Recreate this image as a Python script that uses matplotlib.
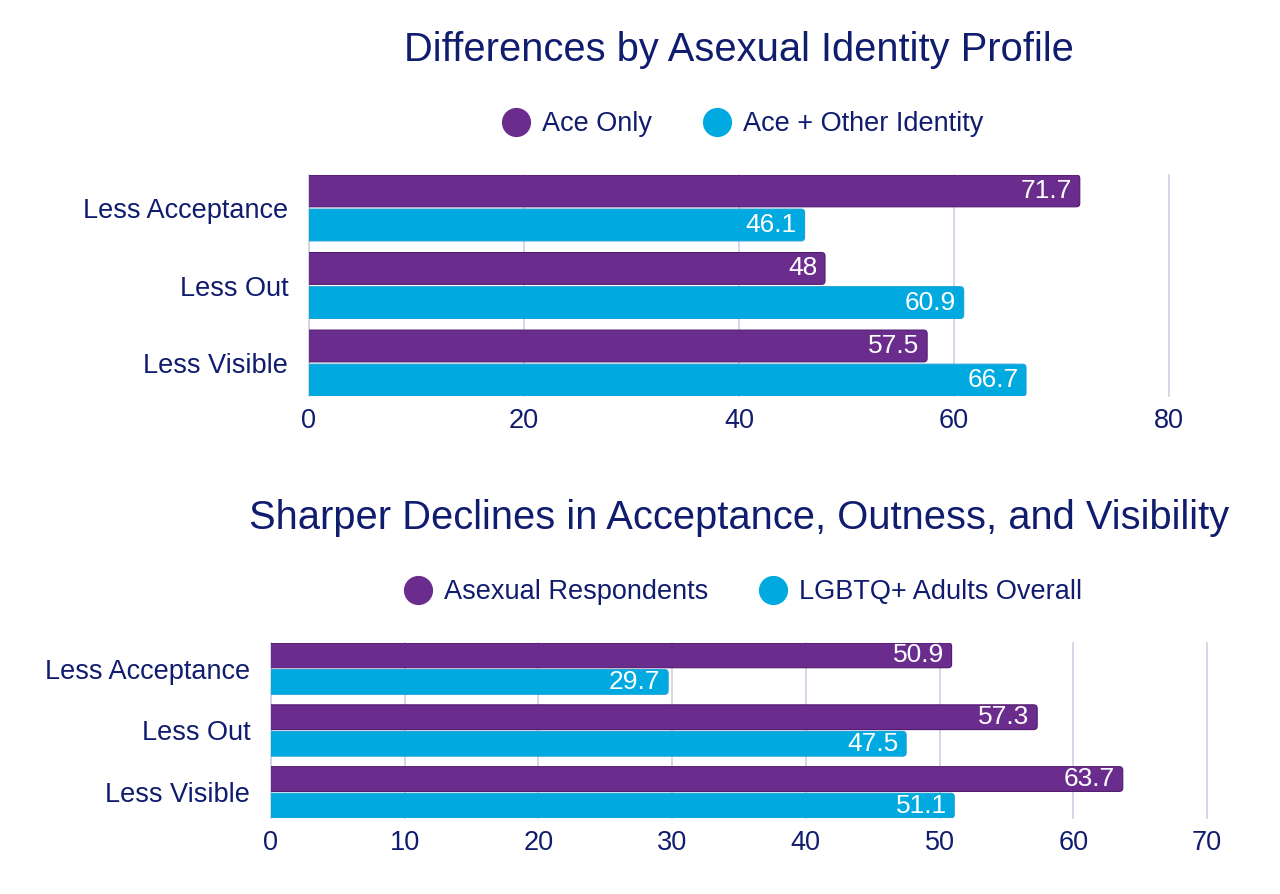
import matplotlib
matplotlib.use("Agg")
import matplotlib.pyplot as plt
from matplotlib.lines import Line2D
from matplotlib.patches import FancyBboxPatch
import numpy as np

plt.rcParams['font.family'] = ['Liberation Sans', 'DejaVu Sans']

navy = "#101c6e"
purple = "#6a2d8d"
cyan = "#00a9e0"
grid_c = "#cdd1e3"

categories = ["Less Acceptance", "Less Out", "Less Visible"]

top_title = "Differences by Asexual Identity Profile"
top_series = ["Ace Only", "Ace + Other Identity"]
ace_only = [71.7, 48, 57.5]
ace_other = [46.1, 60.9, 66.7]
top_ticks = [0, 20, 40, 60, 80]

bot_title = "Sharper Declines in Acceptance, Outness, and Visibility"
bot_series = ["Asexual Respondents", "LGBTQ+ Adults Overall"]
asexual = [50.9, 57.3, 63.7]
lgbtq = [29.7, 47.5, 51.1]
bot_ticks = [0, 10, 20, 30, 40, 50, 60, 70]

W, H = 1280, 894
fig = plt.figure(figsize=(W / 100, H / 100), dpi=100)


def px_axes(x0, y0, x1, y1):
    # pixel box (top-left origin) -> figure fraction
    return fig.add_axes([x0 / W, 1 - y1 / H, (x1 - x0) / W, (y1 - y0) / H]), (x1 - x0), (y1 - y0)


def round_bars(ax, bars, fc, ec, xpx, ypx, xspan, yspan):
    # swap plain bars for ones with small rounded right corners;
    # the left end starts behind the axis so it gets clipped square
    r_px = 3.5
    rx = r_px * xspan / xpx
    aspect = (yspan / ypx) / (xspan / xpx)
    for b in bars:
        x, y, w, h = b.get_x(), b.get_y(), b.get_width(), b.get_height()
        b.set_visible(False)
        p = FancyBboxPatch((x - 3 * rx, y), w + 3 * rx, h,
                           boxstyle=f"round,pad=0,rounding_size={rx}",
                           mutation_aspect=aspect, fc=fc, ec=ec, lw=0.8, zorder=3)
        ax.add_patch(p)


def draw(ax, xpx, ypx, title, names, v1, v2, ticks, bh, gap, leg_y):
    y = np.arange(len(categories))
    off = bh / 2 + gap / 2
    ymax = len(categories) - 1 + off + bh / 2
    ymin = -off - bh / 2
    b1 = ax.barh(y - off, v1, height=bh, color=purple)
    b2 = ax.barh(y + off, v2, height=bh, color=cyan)
    round_bars(ax, b1, purple, "#52196f", xpx, ypx, ticks[-1], ymax - ymin)
    round_bars(ax, b2, cyan, "#1da3d8", xpx, ypx, ticks[-1], ymax - ymin)
    for bars, vals in ((b1, v1), (b2, v2)):
        for r, v in zip(bars, vals):
            ax.annotate(f"{v:g}", (v, r.get_y() + r.get_height() / 2),
                        xytext=(-5.5, 0), textcoords="offset points",
                        ha="right", va="center", color="white", fontsize=19, zorder=4)
    ax.set_xlim(0, ticks[-1])
    ax.set_ylim(ymax, ymin)
    ax.set_xticks(ticks)
    ax.set_yticks(y)
    ax.set_yticklabels(categories)
    ax.tick_params(axis="both", length=0, colors=navy, labelsize=19.5)
    ax.tick_params(axis="x", pad=9)
    ax.tick_params(axis="y", pad=15)
    ax.grid(axis="x", color=grid_c, linewidth=1.2, zorder=0)
    for gl in ax.get_xgridlines():
        gl.set_clip_on(False)
    ax.set_axisbelow(True)
    for s in ax.spines.values():
        s.set_visible(False)
    ax.axvline(0, color=grid_c, linewidth=1.2, zorder=2)
    ax.set_title(title, color=navy, fontsize=28.7, pad=82)
    handles = [Line2D([], [], marker="o", linestyle="none", markersize=20,
                      markerfacecolor=c, markeredgecolor=c) for c in (purple, cyan)]
    ax.legend(handles, names, loc="center", bbox_to_anchor=(0.5, leg_y), ncol=2,
              frameon=False, fontsize=19.5, labelcolor=navy, handlelength=1.6,
              handletextpad=0.15, columnspacing=1.6, borderaxespad=0)


ax1, w1, h1 = px_axes(309, 175, 1169, 396)
draw(ax1, w1, h1, top_title, top_series, ace_only, ace_other, top_ticks,
     bh=0.41, gap=0.03, leg_y=1.0 + 51 / h1)

ax2, w2, h2 = px_axes(271, 643, 1207, 818)
draw(ax2, w2, h2, bot_title, bot_series, asexual, lgbtq, bot_ticks,
     bh=0.40, gap=0.03, leg_y=1.0 + 51 / h2)

fig.savefig("out.png", dpi=100, facecolor="white")
